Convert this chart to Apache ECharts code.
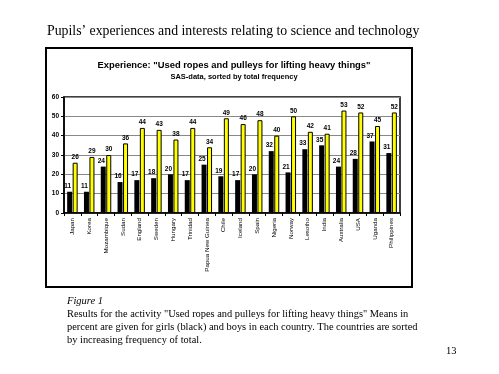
<!DOCTYPE html>
<html>
<head>
<meta charset="utf-8">
<script src="https://cdn.jsdelivr.net/npm/echarts@6/dist/echarts.min.js"></script>
<style>html,body{margin:0;padding:0;background:#fff;}#c{width:499px;height:374px;}</style>
</head>
<body>
<div id="c"></div>
<script>
const countries = ["Japan","Korea","Mozambique","Sudan","England","Sweden","Hungary","Trinidad","Papua New Guinea","Chile","Iceland","Spain","Nigeria","Norway","Lesotho","India","Australia","USA","Uganda","Philippines"];
const girls = [11,11,24,16,17,18,20,17,25,19,17,20,32,21,33,35,24,28,37,31];
const boys  = [26,29,30,36,44,43,38,44,34,49,46,48,40,50,42,41,53,52,45,52];
const yTicks = [0,10,20,30,40,50,60];

const chart = echarts.init(document.getElementById('c'), null, {renderer:'canvas'});
const lblStyle = {show:true, position:'top', distance:2, fontSize:6.5, fontWeight:'bold', fontFamily:'Arial, Liberation Sans', color:'#000'};
const serif = '"Liberation Serif", "Times New Roman", serif';
chart.setOption({
  animation:false,
  backgroundColor:'#fff',
  title:{
    text:'Experience: "Used ropes and pulleys for lifting heavy things"',
    subtext:'SAS-data, sorted by total frequency',
    left:229, textAlign:'center', top:56, itemGap:3,
    textStyle:{fontSize:9.4, fontWeight:'bold', fontFamily:'Arial, Liberation Sans', color:'#000'},
    subtextStyle:{fontSize:7.5, fontWeight:'bold', fontFamily:'Arial, Liberation Sans', color:'#000'}
  },
  graphic:[
    {type:'text', left:47, top:24, style:{text:'Pupils\u2019 experiences and interests relating to science and technology', font:'13.8px '+serif, fill:'#000'}},
    {type:'rect', shape:{x:46, y:48, width:366, height:239}, style:{fill:'none', stroke:'#000', lineWidth:2}, z:-1},
    {type:'text', left:67, top:296, style:{text:'Figure 1', font:'italic 10.5px '+serif, fill:'#000'}},
    {type:'text', left:67, top:309, style:{text:'Results for the activity "Used ropes and pulleys for lifting heavy things" Means in', font:'10.4px '+serif, fill:'#000'}},
    {type:'text', left:67, top:322, style:{text:'percent are given for girls (black) and boys in each country. The countries are sorted', font:'10.4px '+serif, fill:'#000'}},
    {type:'text', left:67, top:335, style:{text:'by increasing frequency of total.', font:'10.4px '+serif, fill:'#000'}},
    {type:'text', left:446, top:346, style:{text:'13', font:'10.5px '+serif, fill:'#000'}}
  ],
  grid:{left:64, right:99, top:97, bottom:161, show:true, borderColor:'#000', borderWidth:1.5, backgroundColor:'#fff'},
  xAxis:{
    type:'category', data:countries,
    axisLine:{lineStyle:{color:'#000', width:1.5}},
    axisTick:{show:true, length:3, lineStyle:{color:'#000'}},
    axisLabel:{rotate:90, fontSize:6.2, fontFamily:'Arial, Liberation Sans', color:'#000', margin:5, interval:0}
  },
  yAxis:{
    type:'value', min:yTicks[0], max:yTicks[yTicks.length-1], interval:10,
    axisLine:{show:true, lineStyle:{color:'#000', width:1.5}},
    axisTick:{show:true, length:3, lineStyle:{color:'#000'}},
    axisLabel:{fontSize:6.5, fontWeight:'bold', fontFamily:'Arial, Liberation Sans', color:'#000', margin:5},
    splitLine:{lineStyle:{color:'#888', width:1}}
  },
  series:[
    {name:'girls', type:'bar', data:girls, barWidth:5, barGap:'10%',
     itemStyle:{color:'#000'}, label:Object.assign({}, lblStyle, {offset:[-2,0]})},
    {name:'boys', type:'bar', data:boys, barWidth:5,
     itemStyle:{color:'#ffff00', borderColor:'#000', borderWidth:1}, label:lblStyle}
  ]
});
</script>
</body>
</html>
